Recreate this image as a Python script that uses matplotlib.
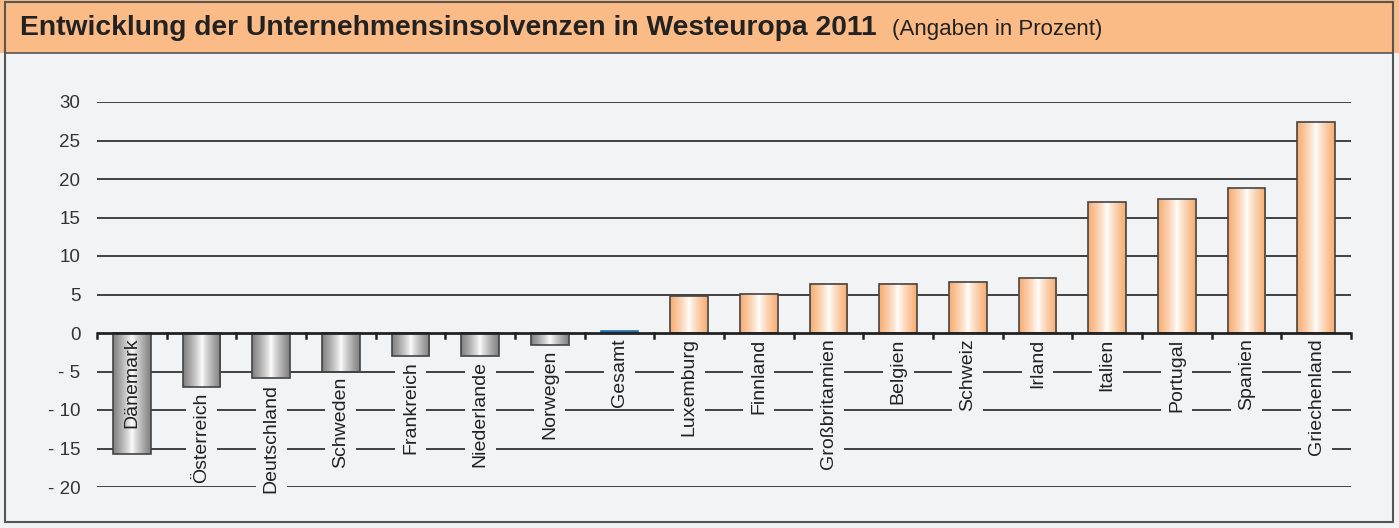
import numpy as np
import matplotlib.pyplot as plt
from matplotlib.patches import Rectangle
from matplotlib.colors import to_rgb

# === Daten ===
laender = ['Dänemark', 'Österreich', 'Deutschland', 'Schweden', 'Frankreich', 'Niederlande',
           'Norwegen', 'Gesamt', 'Luxemburg', 'Finnland', 'Großbritannien', 'Belgien',
           'Schweiz', 'Irland', 'Italien', 'Portugal', 'Spanien', 'Griechenland']
werte = [-15.7, -7.0, -5.9, -5.0, -3.0, -3.0, -1.5, 0.2, 4.8, 5.1, 6.4, 6.4, 6.6, 7.1,
         17.0, 17.4, 18.8, 27.4]
y_ticks = [30, 25, 20, 15, 10, 5, 0, -5, -10, -15, -20]
y_labels = ['30', '25', '20', '15', '10', '5', '0', '- 5', '- 10', '- 15', '- 20']
innen = ['Dänemark']  # Beschriftung im Balken

plt.rcParams['font.family'] = ['Liberation Sans', 'DejaVu Sans']

bg = '#f2f3f5'
W, H = 1399, 528
fig = plt.figure(figsize=(W / 100, H / 100), dpi=100, facecolor=bg)

# === Rahmen und Titelbalken ===
fig.patches.append(Rectangle((0, 1 - 53 / H), 1, 53 / H, transform=fig.transFigure,
                             facecolor='#fabb87', edgecolor='none', zorder=0))
fig.add_artist(plt.Line2D([5 / W, 1393 / W], [1 - 53 / H, 1 - 53 / H], color='#555555', lw=1.2))
fig.patches.append(Rectangle((5 / W, 6 / H), 1388 / W, 1 - 8 / H, transform=fig.transFigure,
                             facecolor='none', edgecolor='#555555', lw=1.5, zorder=5))
t = fig.text(20 / W, 1 - 28 / H, 'Entwicklung der Unternehmensinsolvenzen in Westeuropa 2011',
             fontsize=20.3, fontweight='bold', color='#222222', va='center', ha='left')
fig.canvas.draw()
bb = t.get_window_extent()
fig.text((bb.x1 + 15) / W, 1 - 29 / H, '(Angaben in Prozent)', fontsize=16,
         color='#222222', va='center', ha='left')

# === Achse ===
ax = fig.add_axes([97 / W, 1 - 487 / H, (1351 - 97) / W, (487 - 102) / H])
ax.patch.set_alpha(0)
n = len(laender)
x = np.arange(n)
for s in ax.spines.values():
    s.set_visible(False)
ax.set_yticks(y_ticks)
ax.set_yticklabels(y_labels, fontsize=13.5, color='#333333')
ax.tick_params(axis='y', length=0, pad=12)
ax.set_xticks([])
for yt in y_ticks:
    if yt != 0:
        ax.axhline(yt, color='#333333', lw=1.3, zorder=1)

farben = []
for v, name in zip(werte, laender):
    if name == 'Gesamt':
        farben.append('#1f6fb5')
    elif v < 0:
        farben.append('#808080')
    else:
        farben.append('#f8ac70')

bars = ax.bar(x, werte, width=0.54, color='none', edgecolor='#444444', lw=1.2, zorder=4)

# Verlauf in den Balken
for b, c, name in zip(bars, farben, laender):
    x0, w, y0, h = b.get_x(), b.get_width(), b.get_y(), b.get_height()
    if name == 'Gesamt':
        b.set_edgecolor(c)
        b.set_facecolor(c)
        continue
    rgb = np.array(to_rgb(c))
    tt = np.linspace(0, 1, 64)
    mix = (np.abs(tt - 0.5) * 2) ** 0.8
    grad = (1 - mix)[:, None] * np.ones(3) + mix[:, None] * rgb
    ax.imshow(grad[None, :, :], extent=(x0, x0 + w, min(y0, y0 + h), max(y0, y0 + h)),
              aspect='auto', zorder=3, interpolation='bilinear')
ax.set_xlim(-0.5, n - 0.5)
ax.set_ylim(-20, 30)

# Nulllinie mit Teilstrichen
ax.axhline(0, color='#222222', lw=2, zorder=5)
for k in range(n + 1):
    ax.plot([k - 0.5, k - 0.5], [0, -0.6], color='#222222', lw=1.8, zorder=5, clip_on=False)

# Beschriftungen
texte = []
for i, (name, v) in enumerate(zip(laender, werte)):
    if name in innen:
        ax.text(i, -0.6, name, rotation=90, ha='center', va='top', fontsize=14,
                color='#222222', zorder=6)
    else:
        start = min(v, 0) - 0.7
        texte.append(ax.text(i, start, name, rotation=90, ha='center', va='top', fontsize=14,
                             color='#222222', zorder=6))

# Hintergrund hinter den Beschriftungen (unterbricht die Gitterlinien)
fig.canvas.draw()
inv = fig.transFigure.inverted()
for tx in texte:
    e = tx.get_window_extent()
    (fx0, fy0), (fx1, fy1) = inv.transform([(e.x0 - 7, e.y0 - 2), (e.x1 + 7, e.y1 + 1)])
    ax.add_patch(Rectangle((fx0, fy0), fx1 - fx0, fy1 - fy0, transform=fig.transFigure,
                           facecolor=bg, edgecolor='none', zorder=2, clip_on=False))

plt.savefig('out.png', dpi=100, facecolor=bg)
